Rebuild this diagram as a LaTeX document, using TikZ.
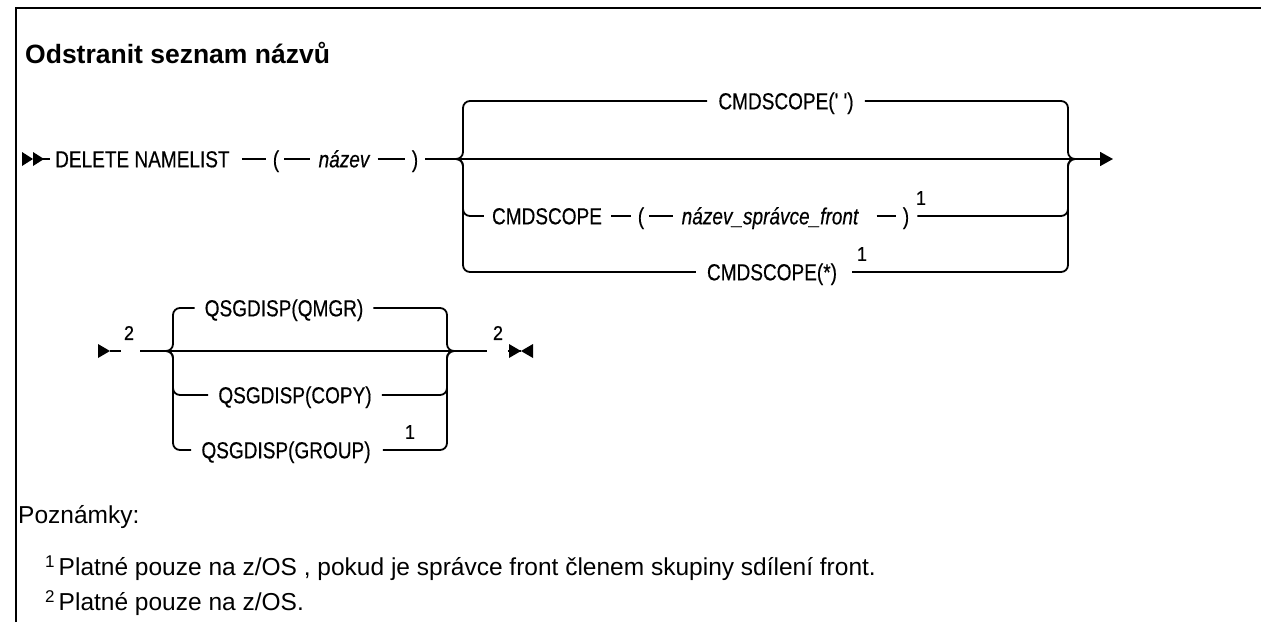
\documentclass[tikz,border=0pt]{standalone}
\usepackage{fontspec}
\setmainfont{Liberation Sans}
\newfontfamily\synfont[FakeStretch=0.82,FakeBold=0.4]{Liberation Sans}
\newfontfamily\supfont[FakeStretch=0.9,FakeBold=0.6]{Liberation Sans}
\usetikzlibrary{arrows.meta}
\tikzset{
  rail/.style={line width=1.8pt},
  frame/.style={line width=2.6pt},
  kw/.style={inner sep=0pt, text height=16.6pt, text depth=0pt, font=\synfont\fontsize{23.2}{27}\selectfont},
  var/.style={inner sep=0pt, text height=16.6pt, text depth=0pt, font=\synfont\itshape\fontsize{23.2}{27}\selectfont},
  supnum/.style={inner sep=0pt, font=\supfont\fontsize{20}{22}\selectfont},
  note/.style={inner sep=0pt, anchor=base west, font=\fontsize{24.5}{29}\selectfont},
  title/.style={inner sep=0pt, anchor=base west, font=\bfseries\fontsize{26.5}{30}\selectfont},
}
\begin{document}
\begin{tikzpicture}[x=1pt,y=-1pt]
\useasboundingbox (0,0) rectangle (1261,622);
% frame
\draw[frame] (16,622) -- (16,8) -- (1261,8);
% title
\node[title] (ttl) at (25,63) {Odstranit seznam názvů};

% ---------- diagram 1 ----------
\coordinate (s1) at (22,159);
\node[kw, anchor=west] (dn) at (55,159) {DELETE NAMELIST};
\node[kw] (lp1) at (276,159) {(};
\node[var] (nz) at (344,159) {název};
\node[kw] (rp1) at (415,159) {)};
\coordinate (bl1) at (455,159);
\coordinate (br1) at (1075,159);
\coordinate (e1) at (1113,159);
\node[kw] (cs1) at (786,101) {CMDSCOPE(' ')};
\node[kw] (cs2) at (547,216) {CMDSCOPE};
\node[kw] (lp2) at (641,216) {(};
\node[var] (nsf) at (770,216) {název\_správce\_front};
\node[kw] (rp2) at (906,216) {)};
\node[supnum] (n1a) at (921,198) {1};
\node[kw] (cs3) at (772,272) {CMDSCOPE(*)};
\node[supnum] (n1b) at (862,254) {1};

\fill (s1) ++(0,-7) -- ++(11,7) -- ++(-11,7) -- cycle;
\fill (s1) ++(11,-7) -- ++(11,7) -- ++(-11,7) -- cycle;
\draw[rail] ([xshift=20]s1) -- ([xshift=-5]dn.west);
\draw[rail] ([xshift=12]dn.east) -- ([xshift=-7]lp1.west);
\draw[rail] ([xshift=5]lp1.east) -- ([xshift=-8]nz.west);
\draw[rail] ([xshift=8]nz.east) -- ([xshift=-7]rp1.west);
\draw[rail] ([xshift=7]rp1.east) -- (bl1);
\draw[rail] (bl1) -- (br1);
\draw[rail,-{Triangle[length=13pt,width=14pt]}] (br1) -- (e1);
% top branch
\draw[rail, rounded corners=7pt] (bl1) -- ++(8,0) |- ([xshift=-11]cs1.west);
\draw[rail, rounded corners=7pt] ([xshift=11]cs1.east) -| ([xshift=-7]br1) -- (br1);
% second branch
\draw[rail, rounded corners=7pt] (bl1) -- ++(8,0) |- ([xshift=-8]cs2.west);
\draw[rail] ([xshift=9]cs2.east) -- ([xshift=-7]lp2.west);
\draw[rail] ([xshift=5]lp2.east) -- ([xshift=-9]nsf.west);
\draw[rail] ([xshift=18]nsf.east) -- ([xshift=-7]rp2.west);
\draw[rail, rounded corners=7pt] ([xshift=8]rp2.east) -| ([xshift=-7]br1) -- (br1);
% third branch
\draw[rail, rounded corners=7pt] (bl1) -- ++(8,0) |- ([xshift=-11]cs3.west);
\draw[rail, rounded corners=7pt] ([xshift=15]cs3.east) -| ([xshift=-7]br1) -- (br1);

% ---------- diagram 2 ----------
\coordinate (s2) at (98,351);
\node[supnum] (n2a) at (129,333) {2};
\coordinate (bl2) at (165,351);
\coordinate (br2) at (455,351);
\node[supnum] (n2b) at (498,333) {2};
\coordinate (e2) at (521,351);
\node[kw] (q1) at (284,308) {QSGDISP(QMGR)};
\node[kw] (q2) at (295,395) {QSGDISP(COPY)};
\node[kw] (q3) at (286,450) {QSGDISP(GROUP)};
\node[supnum] (n1c) at (410,432) {1};

\fill (s2) ++(0,-7) -- ++(12,7) -- ++(-12,7) -- cycle;
\draw[rail] ([xshift=12]s2) -- ([xshift=-3]n2a.west |- s2);
\draw[rail] ([xshift=6]n2a.east |- s2) -- (bl2);
\draw[rail] (bl2) -- (br2);
\draw[rail] (br2) -- ([xshift=-6]n2b.west |- br2);
\draw[rail] ([xshift=5]n2b.east |- br2) -- (e2);
\fill (e2) -- ++(-12,-7) -- ++(0,14) -- cycle;
\fill (e2) -- ++(12,-7) -- ++(0,14) -- cycle;
\draw[rail, rounded corners=7pt] (bl2) -- ++(8,0) |- ([xshift=-10]q1.west);
\draw[rail, rounded corners=7pt] ([xshift=10]q1.east) -| ([xshift=-8]br2) -- (br2);
\draw[rail, rounded corners=7pt] (bl2) -- ++(8,0) |- ([xshift=-10]q2.west);
\draw[rail, rounded corners=7pt] ([xshift=10]q2.east) -| ([xshift=-8]br2) -- (br2);
\draw[rail, rounded corners=7pt] (bl2) -- ++(8,0) |- ([xshift=-10]q3.west);
\draw[rail, rounded corners=7pt] ([xshift=12]q3.east) -| ([xshift=-8]br2) -- (br2);

% ---------- notes ----------
\node[note] (pzn) at (18,523) {Poznámky:};
\node[note] (nt1) at (45,575) {\raisebox{8pt}{\fontsize{17}{17}\selectfont 1}\,Platné pouze na z/OS , pokud je správce front členem skupiny sdílení front.};
\node[note] (nt2) at (45,610) {\raisebox{8pt}{\fontsize{17}{17}\selectfont 2}\,Platné pouze na z/OS.};
\end{tikzpicture}
\end{document}
